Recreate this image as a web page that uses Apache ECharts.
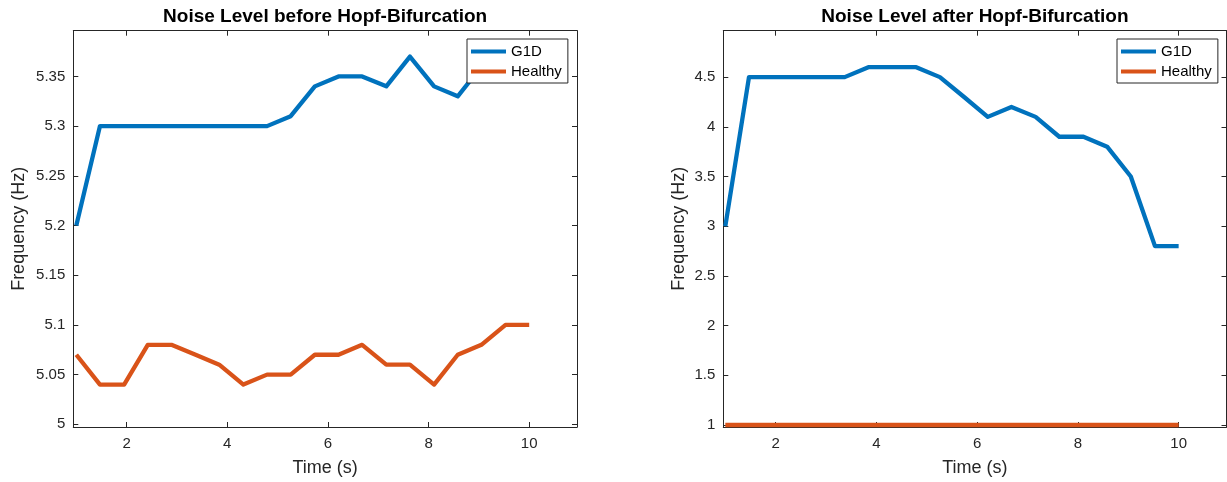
<!DOCTYPE html>
<html>
<head>
<meta charset="utf-8">
<script src="https://cdn.jsdelivr.net/npm/echarts@6/dist/echarts.min.js"></script>
<style>
  html, body { margin: 0; padding: 0; background: #ffffff; }
  #chart { width: 1227px; height: 482px; }
</style>
</head>
<body>
<div id="chart"></div>
<script>
// Sample times (s)
const timeS = [1, 1.47, 1.95, 2.42, 2.89, 3.37, 3.84, 4.32, 4.79, 5.26,
               5.74, 6.21, 6.68, 7.16, 7.63, 8.11, 8.58, 9.05, 9.53, 10];

// Dominant frequency before the bifurcation (Hz)
const g1dBefore     = [5.2, 5.3, 5.3, 5.3, 5.3, 5.3, 5.3, 5.3, 5.3, 5.31,
                       5.34, 5.35, 5.35, 5.34, 5.37, 5.34, 5.33, 5.36, 5.36, 5.36];
const healthyBefore = [5.07, 5.04, 5.04, 5.08, 5.08, 5.07, 5.06, 5.04, 5.05, 5.05,
                       5.07, 5.07, 5.08, 5.06, 5.06, 5.04, 5.07, 5.08, 5.1, 5.1];

// Dominant frequency after the bifurcation (Hz)
const g1dAfter      = [3, 4.5, 4.5, 4.5, 4.5, 4.5, 4.6, 4.6, 4.6, 4.5,
                       4.3, 4.1, 4.2, 4.1, 3.9, 3.9, 3.8, 3.5, 2.8, 2.8];
const healthyAfter  = [1, 1, 1, 1, 1, 1, 1, 1, 1, 1,
                       1, 1, 1, 1, 1, 1, 1, 1, 1, 1];

// Tick positions
const xTicks       = [2, 4, 6, 8, 10];
const yTicksBefore = [5, 5.05, 5.1, 5.15, 5.2, 5.25, 5.3, 5.35];
const yTicksAfter  = [1, 1.5, 2, 2.5, 3, 3.5, 4, 4.5];

const titles = ['Noise Level before Hopf-Bifurcation', 'Noise Level after Hopf-Bifurcation'];

const BLUE = '#0072BD';
const ORANGE = '#D95319';
const AX = '#262626';
const FONT = 'Liberation Sans, Arial, Helvetica, sans-serif';

const panels = [
  { left: 73.3, width: 503.7, xMin: 0.94, xMax: 10.95, yMin: 4.9973, yMax: 5.396,
    yTicks: yTicksBefore, nameGap: 45, g1d: g1dBefore, healthy: healthyBefore, legendLeft: 467 },
  { left: 723.3, width: 503.2, xMin: 0.96, xMax: 10.95, yMin: 0.98, yMax: 4.967,
    yTicks: yTicksAfter, nameGap: 35, g1d: g1dAfter, healthy: healthyAfter, legendLeft: 1117 }
];

const pair = (ys) => timeS.map((t, i) => [t, ys[i]]);

function xAxisFor(p, idx, pos) {
  const main = pos === 'bottom';
  return {
    type: 'value', gridIndex: idx, position: pos,
    min: p.xMin, max: p.xMax,
    name: main ? 'Time (s)' : '',
    nameLocation: 'middle', nameGap: 32,
    nameTextStyle: { color: AX, fontSize: 18, fontFamily: FONT },
    axisLine: { show: true, onZero: false, lineStyle: { color: AX, width: 1 } },
    axisTick: { show: true, inside: true, length: 5, customValues: xTicks, lineStyle: { color: AX } },
    axisLabel: { show: main, customValues: xTicks, margin: 9, color: AX, fontSize: 15, fontFamily: FONT },
    splitLine: { show: false }
  };
}

function yAxisFor(p, idx, pos) {
  const main = pos === 'left';
  return {
    type: 'value', gridIndex: idx, position: pos,
    min: p.yMin, max: p.yMax,
    name: main ? 'Frequency (Hz)' : '',
    nameLocation: 'middle', nameGap: p.nameGap,
    nameTextStyle: { color: AX, fontSize: 18, fontFamily: FONT },
    axisLine: { show: true, onZero: false, lineStyle: { color: AX, width: 1 } },
    axisTick: { show: true, inside: true, length: 5, customValues: p.yTicks, lineStyle: { color: AX } },
    axisLabel: { show: main, customValues: p.yTicks, margin: 8, color: AX, fontSize: 15, fontFamily: FONT },
    splitLine: { show: false }
  };
}

const option = {
  animation: false,
  backgroundColor: '#ffffff',
  title: panels.map((p, i) => ({
    text: titles[i],
    left: p.left + p.width / 2, top: 7, padding: 0,
    textAlign: 'center',
    textStyle: { color: '#000', fontSize: 19, fontWeight: 'bold', fontFamily: FONT }
  })),
  legend: panels.map((p) => ({
    data: ['G1D', 'Healthy'],
    orient: 'vertical',
    left: p.legendLeft, top: 39,
    padding: [4, 6, 3, 4],
    itemGap: 3,
    itemWidth: 35, itemHeight: 4,
    icon: 'rect',
    backgroundColor: '#ffffff',
    borderColor: AX, borderWidth: 1, borderRadius: 0,
    selectedMode: false,
    textStyle: { color: '#000', fontSize: 15, fontFamily: FONT, lineHeight: 17, padding: [0, 0, 0, 0] }
  })),
  grid: panels.map((p) => ({ left: p.left, top: 30.7, width: p.width, height: 397, containLabel: false })),
  xAxis: panels.flatMap((p, i) => [xAxisFor(p, i, 'bottom'), xAxisFor(p, i, 'top')]),
  yAxis: panels.flatMap((p, i) => [yAxisFor(p, i, 'left'), yAxisFor(p, i, 'right')]),
  series: panels.flatMap((p, i) => [
    { name: 'G1D', type: 'line', xAxisIndex: 2 * i, yAxisIndex: 2 * i, data: pair(p.g1d),
      showSymbol: false, symbol: 'none', color: BLUE, lineStyle: { color: BLUE, width: 4.3, join: 'round' } },
    { name: 'Healthy', type: 'line', xAxisIndex: 2 * i, yAxisIndex: 2 * i, data: pair(p.healthy),
      showSymbol: false, symbol: 'none', color: ORANGE, lineStyle: { color: ORANGE, width: 4.3, join: 'round' } }
  ])
};

const chart = echarts.init(document.getElementById('chart'), null, { renderer: 'canvas' });
chart.setOption(option);
</script>
</body>
</html>
